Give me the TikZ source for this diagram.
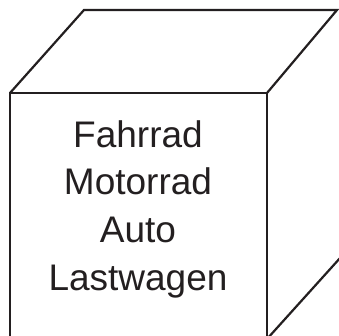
\documentclass[tikz,border=0pt]{standalone}
\usepackage{fontspec}
\setmainfont{Liberation Sans}
\definecolor{ink}{HTML}{231F20}
\tikzset{
    box edge/.style={
        draw=ink,
        line width=2.2pt,
        line join=miter
    },
    box text/.style={
        text=ink,
        font=\fontsize{37}{47.7}\selectfont,
        align=center,
        inner sep=0pt
    }
}
\begin{document}
\begin{tikzpicture}[x=1pt,y=1pt]
                \useasboundingbox (0,0) rectangle (339,336);
                \clip (0,0) rectangle (339,336);
                \coordinate (ftl) at (10,243);
                \coordinate (ftr) at (267,243);
                \coordinate (fbl) at (10,-3);
                \coordinate (fbr) at (267,-3);
                \coordinate (btl) at (84,326);
                \coordinate (btr) at (337,326);
                \coordinate (bbr) at (350,89);
                \draw[box edge] (fbl) -- (ftl) -- (ftr) -- (fbr) -- cycle;
                \draw[box edge] (ftl) -- (btl) -- (btr) -- (ftr);
                \draw[box edge] (fbr) -- (bbr);
                \node[box text, anchor=north] (items) at (138,216)
                    {Fahrrad\\Motorrad\\Auto\\Lastwagen};
            \end{tikzpicture}
\end{document}
